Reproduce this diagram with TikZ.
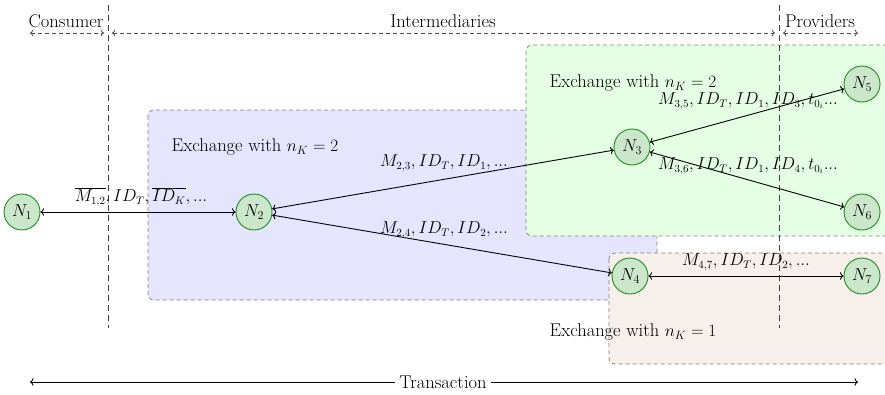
\documentclass[tikz,border=0pt]{standalone}
\usetikzlibrary{arrows.meta}
\definecolor{peerfill}{RGB}{204,230,204}
\definecolor{peerline}{RGB}{26,140,26}
\definecolor{sandfill}{RGB}{247,239,233}
\tikzset{
  peer/.style={circle, draw=peerline, fill=peerfill, line width=0.9pt,
               minimum size=36pt, inner sep=0pt},
  link/.style={<->, line width=0.9pt},
  zone/.style={draw=black!50, dashed, dash pattern=on 4pt off 3pt, line width=0.8pt,
               rounded corners=6pt},
  divider/.style={draw=black!75, dash pattern=on 6pt off 4pt, line width=0.8pt},
  role/.style={<->, draw=black!70, dash pattern=on 4pt off 3pt, line width=0.8pt},
  lbl/.style={inner sep=1pt},
  msg/.style={inner sep=1pt, font=\fontsize{16}{19}\selectfont}
}
\begin{document}
\begin{tikzpicture}[x=1pt, y=-1pt, font=\fontsize{18.5}{22}\selectfont]
\useasboundingbox (0,0) rectangle (885,394);

% exchange zones
\draw[zone, fill=blue!10] (148,110) rectangle (657,300);
\draw[zone, fill=green!10] (526,45) rectangle (890,236);
\draw[zone, fill=sandfill] (609,253) rectangle (890,364);

% role dividers
\draw[divider] (108,5) -- (108,328);
\draw[divider] (779,5) -- (779,328);

% role ranges
\coordinate (c0) at (30,33);  \coordinate (c1) at (104,33);
\coordinate (i0) at (112,33); \coordinate (i1) at (775,33);
\coordinate (p0) at (783,33); \coordinate (p1) at (858,33);
\draw[role] (c0) -- (c1);
\draw[role] (i0) -- (i1);
\draw[role] (p0) -- (p1);
\node[lbl] (consumer) at (66,21) {Consumer};
\node[lbl] (interm) at (443,21) {Intermediaries};
\node[lbl] (prov) at (820,21) {Providers};

% zone captions
\node[lbl] (ex1) at (255,147) {Exchange with $n_K=2$};
\node[lbl] (ex2) at (633,83) {Exchange with $n_K=2$};
\node[lbl] (ex3) at (633,332) {Exchange with $n_K=1$};

% peers
\node[peer] (N1) at (22,212) {$N_1$};
\node[peer] (N2) at (254,212) {$N_2$};
\node[peer] (N3) at (632,147) {$N_3$};
\node[peer] (N4) at (630,276) {$N_4$};
\node[peer] (N5) at (862,84) {$N_5$};
\node[peer] (N6) at (862,212) {$N_6$};
\node[peer] (N7) at (862,276) {$N_7$};

% message exchanges
\draw[link] (N1) -- (N2);
\draw[link] (N2) -- (N3);
\draw[link] (N2) -- (N4);
\draw[link] (N3) -- (N5);
\draw[link] (N3) -- (N6);
\draw[link] (N4) -- (N7);

\node[msg] (m12) at (141,197) {$\overline{M_{1,2}}, ID_T, \overline{ID_K}, ...$};
\node[msg] (m23) at (444,163) {$M_{2,3}, ID_T, ID_1, ...$};
\node[msg] (m24) at (444,230) {$M_{2,4}, ID_T, ID_2, ...$};
\node[msg] (m35) at (748,101) {$M_{3,5}, ID_T, ID_1, ID_3, t_{0_i}...$};
\node[msg] (m36) at (748,166) {$M_{3,6}, ID_T, ID_1, ID_4, t_{0_i}...$};
\node[msg] (m47) at (746,262) {$M_{4,7}, ID_T, ID_2, ...$};

% overall transaction
\coordinate (t0) at (30,382);
\coordinate (t1) at (858,382);
\node[lbl, fill=white, inner xsep=4pt] (trans) at (443,382) {Transaction};
\draw[->, line width=0.9pt] (trans.west) -- (t0);
\draw[->, line width=0.9pt] (trans.east) -- (t1);
\end{tikzpicture}
\end{document}
